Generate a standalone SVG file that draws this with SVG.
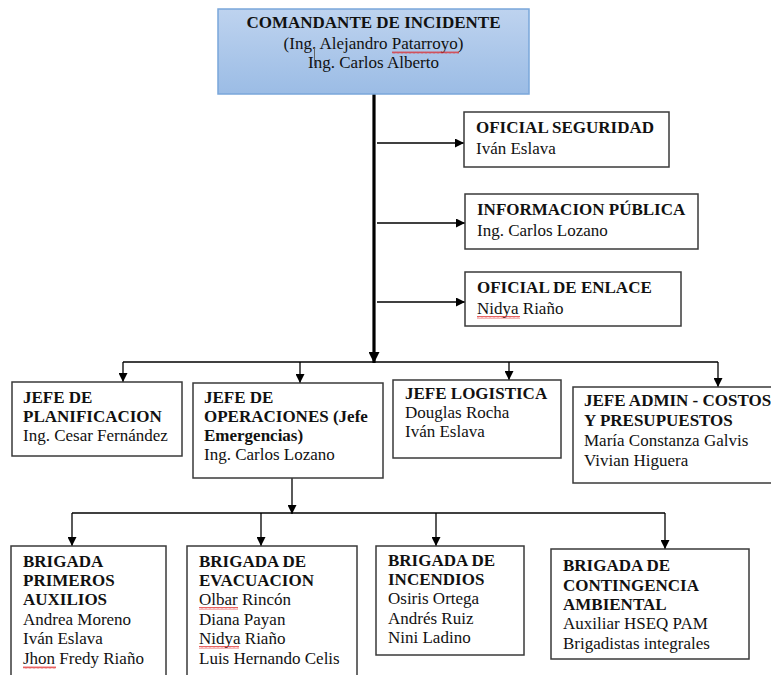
<svg xmlns="http://www.w3.org/2000/svg" width="771" height="675" viewBox="0 0 771 675">
  <defs>
    <linearGradient id="cmdFill" x1="0" y1="0" x2="0" y2="1">
      <stop offset="0" stop-color="#bed3ef"/>
      <stop offset="1" stop-color="#9bbce5"/>
    </linearGradient>
    <marker id="arrow" viewBox="0 0 10 10" refX="10" refY="5" markerWidth="9" markerHeight="9" markerUnits="userSpaceOnUse" orient="auto">
      <path d="M0,0 L10,5 L0,10 Z" fill="#000"/>
    </marker>
    <marker id="arrowBig" viewBox="0 0 10 10" refX="10" refY="5" markerWidth="11" markerHeight="11" markerUnits="userSpaceOnUse" orient="auto">
      <path d="M0,0 L10,5 L0,10 Z" fill="#000"/>
    </marker>
    <pattern id="squiggle" width="4" height="3" patternUnits="userSpaceOnUse">
      <path d="M0,2.5 L1,0.5 L2,2.5 L3,0.5 L4,2.5" fill="none" stroke="#e02020" stroke-width="0.7"/>
    </pattern>
  </defs>
  <style>
    text { font-family: "Liberation Serif", "Times New Roman", serif; font-size: 17px; fill: #111; }
    .b { font-weight: bold; }
    .box { fill: #fff; stroke: #3a3a3a; stroke-width: 1.5; }
    .cmd { fill: url(#cmdFill); stroke: #7aa7da; stroke-width: 1.5; }
    .ln { fill: none; stroke: #000; stroke-width: 1.3; }
    .thick { fill: none; stroke: #000; stroke-width: 3.2; }
    .sq { fill: url(#squiggle); }
  </style>

  <rect width="771" height="675" fill="#fff"/>

  <!-- connectors -->
  <g id="connectors">
    <path class="thick" d="M374,94 V363" marker-end="url(#arrowBig)"/>
    <path class="ln" d="M377,143 H464" marker-end="url(#arrow)"/>
    <path class="ln" d="M377,223 H465" marker-end="url(#arrow)"/>
    <path class="ln" d="M377,302 H465" marker-end="url(#arrow)"/>
    <path class="ln" d="M123,362 H718"/>
    <path class="ln" d="M123,362 V382" marker-end="url(#arrow)"/>
    <path class="ln" d="M300,362 V383" marker-end="url(#arrow)"/>
    <path class="ln" d="M509,362 V380" marker-end="url(#arrow)"/>
    <path class="ln" d="M718,362 V387" marker-end="url(#arrow)"/>
    <path class="ln" d="M292,478 V514" marker-end="url(#arrow)"/>
    <path class="ln" d="M72,513 H665"/>
    <path class="ln" d="M72,513 V546" marker-end="url(#arrow)"/>
    <path class="ln" d="M261,513 V546" marker-end="url(#arrow)"/>
    <path class="ln" d="M436,513 V546" marker-end="url(#arrow)"/>
    <path class="ln" d="M665,513 V549" marker-end="url(#arrow)"/>
  </g>

  <!-- incident commander -->
  <g id="comandante">
    <rect class="cmd" x="218" y="9" width="311" height="85"/>
    <text class="b" x="373.5" y="28" text-anchor="middle">COMANDANTE DE INCIDENTE</text>
    <text x="373.5" y="49" text-anchor="middle">(Ing. Alejandro Patarroyo)</text>
    <text x="373.5" y="68" text-anchor="middle">Ing. Carlos Alberto</text>
    <rect class="sq" x="392" y="51" width="67" height="3"/>
    <line x1="314.5" y1="48" x2="314.5" y2="66" stroke="#666" stroke-width="1"/>
  </g>

  <!-- staff officers -->
  <g id="oficial-seguridad">
    <rect class="box" x="464" y="112" width="205" height="55"/>
    <text class="b" x="476" y="133">OFICIAL SEGURIDAD</text>
    <text x="476" y="154">Iván Eslava</text>
  </g>
  <g id="informacion-publica">
    <rect class="box" x="465" y="194" width="233" height="55"/>
    <text class="b" x="477" y="215">INFORMACION PÚBLICA</text>
    <text x="477" y="236">Ing. Carlos Lozano</text>
  </g>
  <g id="oficial-enlace">
    <rect class="box" x="465" y="272" width="216" height="54"/>
    <text class="b" x="477" y="293">OFICIAL DE ENLACE</text>
    <text x="477" y="314">Nidya Riaño</text>
    <rect class="sq" x="477" y="316" width="43" height="3"/>
  </g>

  <!-- section chiefs -->
  <g id="jefe-planificacion">
    <rect class="box" x="12" y="382" width="170" height="74"/>
    <text class="b" x="23" y="403">JEFE DE</text>
    <text class="b" x="23" y="422">PLANIFICACION</text>
    <text x="23" y="441">Ing. Cesar Fernández</text>
  </g>
  <g id="jefe-operaciones">
    <rect class="box" x="193" y="383" width="190" height="95"/>
    <text class="b" x="204" y="403">JEFE DE</text>
    <text class="b" x="204" y="422">OPERACIONES (Jefe</text>
    <text class="b" x="204" y="441">Emergencias)</text>
    <text x="204" y="460">Ing. Carlos Lozano</text>
  </g>
  <g id="jefe-logistica">
    <rect class="box" x="393" y="380" width="168" height="78"/>
    <text class="b" x="405" y="399">JEFE LOGISTICA</text>
    <text x="405" y="418">Douglas Rocha</text>
    <text x="405" y="437">Iván Eslava</text>
  </g>
  <g id="jefe-admin">
    <rect class="box" x="573" y="387" width="210" height="96"/>
    <text class="b" x="584" y="406">JEFE ADMIN - COSTOS</text>
    <text class="b" x="584" y="426">Y PRESUPUESTOS</text>
    <text x="584" y="446">María Constanza Galvis</text>
    <text x="584" y="466">Vivian Higuera</text>
  </g>

  <!-- brigades -->
  <g id="brigada-primeros-auxilios">
    <rect class="box" x="11" y="546" width="155" height="140"/>
    <text class="b" x="23" y="567">BRIGADA</text>
    <text class="b" x="23" y="586">PRIMEROS</text>
    <text class="b" x="23" y="605">AUXILIOS</text>
    <text x="23" y="625">Andrea Moreno</text>
    <text x="23" y="644">Iván Eslava</text>
    <text x="23" y="664">Jhon Fredy Riaño</text>
    <rect class="sq" x="23" y="666" width="33" height="3"/>
  </g>
  <g id="brigada-evacuacion">
    <rect class="box" x="187" y="546" width="170" height="140"/>
    <text class="b" x="199" y="567">BRIGADA DE</text>
    <text class="b" x="199" y="586">EVACUACION</text>
    <text x="199" y="605">Olbar Rincón</text>
    <text x="199" y="625">Diana Payan</text>
    <text x="199" y="644">Nidya Riaño</text>
    <text x="199" y="664">Luis Hernando Celis</text>
    <rect class="sq" x="199" y="607" width="39" height="3"/>
    <rect class="sq" x="199" y="646" width="40" height="3"/>
  </g>
  <g id="brigada-incendios">
    <rect class="box" x="376" y="546" width="148" height="109"/>
    <text class="b" x="388" y="566">BRIGADA DE</text>
    <text class="b" x="388" y="585">INCENDIOS</text>
    <text x="388" y="604">Osiris Ortega</text>
    <text x="388" y="624">Andrés Ruiz</text>
    <text x="388" y="643">Nini Ladino</text>
  </g>
  <g id="brigada-contingencia">
    <rect class="box" x="551" y="549" width="198" height="110"/>
    <text class="b" x="563" y="571">BRIGADA DE</text>
    <text class="b" x="563" y="591">CONTINGENCIA</text>
    <text class="b" x="563" y="610">AMBIENTAL</text>
    <text x="563" y="629">Auxiliar HSEQ PAM</text>
    <text x="563" y="649">Brigadistas integrales</text>
  </g>
</svg>
